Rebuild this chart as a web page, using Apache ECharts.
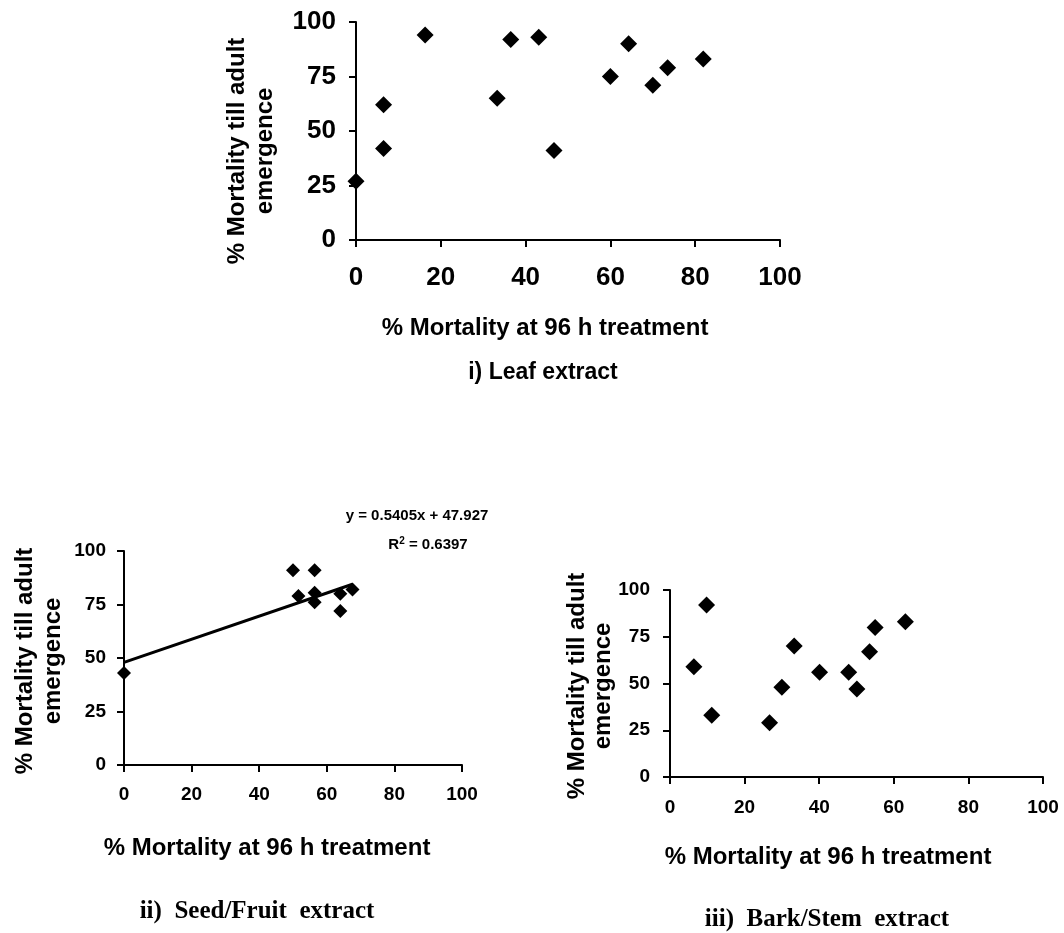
<!DOCTYPE html>
<html>
<head>
<meta charset="utf-8">
<script src="https://cdn.jsdelivr.net/npm/echarts@6/dist/echarts.min.js"></script>
<style>
  html, body { margin: 0; padding: 0; background: #fff; }
  #chart { width: 1064px; height: 933px; }
</style>
</head>
<body>
<div id="chart"></div>
<script>
'use strict';

// i) Leaf extract
const leafX = [0, 6.5, 6.5, 16.3, 33.3, 36.5, 43.1, 46.7, 60, 64.3, 70, 73.5, 81.9];
const leafY = [27, 62, 42, 94, 65, 92, 93, 41, 75, 90, 71, 79, 83];

// ii) Seed/Fruit extract
const seedX = [0, 50, 51.6, 56.4, 56.4, 56.4, 64, 64, 67.6];
const seedY = [43, 91, 79, 91, 80.5, 76, 80, 72, 82];
const trendSlope = 0.5405;
const trendIntercept = 47.927;
const trendR2 = 0.6397;

// iii) Bark/Stem extract
const barkX = [6.4, 9.8, 11.2, 26.7, 30, 33.3, 40.1, 47.9, 50.1, 53.5, 55, 63.1];
const barkY = [59, 92, 33, 29, 48, 70, 56, 56, 47, 67, 80, 83];

const xTitle = '% Mortality at 96 h treatment';
const yTitle = '% Mortality till adult\nemergence';

const SANS = '"Liberation Sans", Arial, sans-serif';
const SERIF = '"Liberation Serif", "Times New Roman", serif';

function zip(xs, ys) {
    return xs.map((x, i) => [x, ys[i]]);
}

function makeX(gridIndex, fontSize, margin) {
    return {
        gridIndex: gridIndex,
        type: 'value',
        min: 0, max: 100, interval: 20,
        axisLine: { show: true, onZero: false, lineStyle: { color: '#000', width: 2 } },
        axisTick: { show: true, length: 7, lineStyle: { color: '#000', width: 2 } },
        axisLabel: { color: '#000', fontWeight: 'bold', fontFamily: SANS, fontSize: fontSize, margin: margin },
        splitLine: { show: false }
    };
}

function makeY(gridIndex, fontSize, margin) {
    return {
        gridIndex: gridIndex,
        type: 'value',
        min: 0, max: 100, interval: 25,
        axisLine: { show: true, onZero: false, lineStyle: { color: '#000', width: 2 } },
        axisTick: { show: true, length: 7, lineStyle: { color: '#000', width: 2 } },
        axisLabel: { color: '#000', fontWeight: 'bold', fontFamily: SANS, fontSize: fontSize, margin: margin },
        splitLine: { show: false }
    };
}

function scatter(idx, data, size) {
    return {
        type: 'scatter',
        xAxisIndex: idx, yAxisIndex: idx,
        data: data,
        symbol: 'diamond',
        symbolSize: [size, size],
        itemStyle: { color: '#000', opacity: 1 },
        clip: false,
        silent: true
    };
}

function text(x, y, str, font, extra) {
    return Object.assign({
        type: 'text', x: x, y: y, silent: true,
        style: {
            text: str, font: font, fill: '#000',
            align: 'center', verticalAlign: 'middle',
            textAlign: 'center', textVerticalAlign: 'middle'
        }
    }, extra || {});
}

function yText(x, y, font, lineHeight) {
    const t = text(x, y, yTitle, font, { rotation: Math.PI / 2 });
    t.style.lineHeight = lineHeight;
    return t;
}

const trendEndX = Math.max(...seedX);
const trendData = [0, trendEndX].map(x => [x, trendSlope * x + trendIntercept]);

const chart = echarts.init(document.getElementById('chart'), null, { renderer: 'canvas' });

const option = {
    backgroundColor: '#fff',
    animation: false,
    grid: [
        { left: 356, top: 22, width: 424, height: 218 },
        { left: 124, top: 551, width: 338, height: 214 },
        { left: 670, top: 590, width: 373, height: 187 }
    ],
    xAxis: [makeX(0, 26, 25), makeX(1, 19, 20), makeX(2, 19, 21)],
    yAxis: [makeY(0, 26, 20), makeY(1, 19, 18), makeY(2, 19, 20)],
    series: [
        scatter(0, zip(leafX, leafY), 17),
        scatter(1, zip(seedX, seedY), 14),
        {
            type: 'line',
            xAxisIndex: 1, yAxisIndex: 1,
            data: trendData,
            symbol: 'none',
            lineStyle: { color: '#000', width: 3 },
            silent: true
        },
        scatter(2, zip(barkX, barkY), 17)
    ],
    graphic: [
        // chart i
        yText(251, 151, 'bold 24px ' + SANS, 28),
        text(545, 328, xTitle, 'bold 24px ' + SANS),
        text(543, 373, 'i) Leaf extract', 'bold 23px ' + SANS),
        // chart ii
        yText(39, 661, 'bold 24px ' + SANS, 28),
        text(267, 848, xTitle, 'bold 24px ' + SANS),
        text(257, 912, 'ii)  Seed/Fruit  extract', 'bold 25px ' + SERIF),
        text(417, 516, 'y = ' + trendSlope + 'x + ' + trendIntercept, 'bold 15px ' + SANS),
        {
            type: 'text', x: 428, y: 545, silent: true,
            style: {
                text: '{n|R}{s|2}{n| = ' + trendR2 + '}',
                align: 'center', verticalAlign: 'middle',
                textAlign: 'center', textVerticalAlign: 'middle',
                rich: {
                    n: { font: 'bold 15px ' + SANS, fill: '#000', lineHeight: 17 },
                    s: { font: 'bold 10px ' + SANS, fill: '#000', verticalAlign: 'top', lineHeight: 17 }
                }
            }
        },
        // chart iii
        yText(590, 686, 'bold 24px ' + SANS, 26),
        text(828, 857, xTitle, 'bold 24px ' + SANS),
        text(827, 920, 'iii)  Bark/Stem  extract', 'bold 25px ' + SERIF)
    ]
};

chart.setOption(option);
</script>
</body>
</html>
